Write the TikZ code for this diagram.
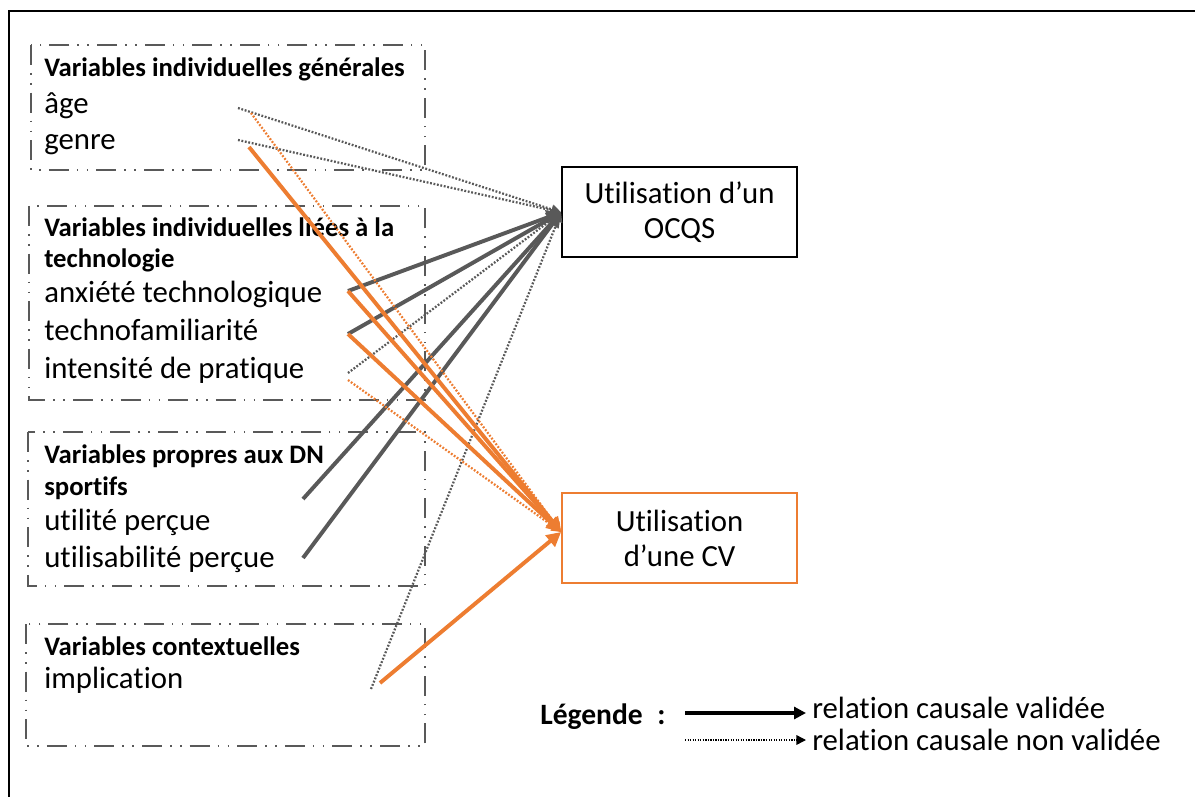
\documentclass[tikz,border=0pt]{standalone}
\usepackage{fontspec}
\setmainfont{Carlito}[Ligatures=NoCommon]
\usepackage{xcolor}
\usepackage{tikz}
\usetikzlibrary{arrows.meta,positioning,calc}
\definecolor{modgris}{HTML}{595959}
\definecolor{modorange}{HTML}{ED7D31}

\begin{document}
\begin{tikzpicture}[
    x=1cm,y=1cm,
    groupe/.style = {draw=modgris, line width=1.2pt,
                     dash pattern=on 5mm off 2mm on 0.4mm off 2.1mm on 0.4mm off 2mm},
    titre/.style  = {anchor=base west, inner sep=0pt,
                     font=\fontsize{19}{22}\selectfont\bfseries},
    var/.style    = {anchor=base west, inner sep=0pt,
                     font=\fontsize{21.9}{25}\selectfont},
    usage/.style  = {draw, line width=1.4pt, minimum width=5.875cm,
                     minimum height=2.25cm, align=center,
                     font=\fontsize{21.9}{25}\selectfont},
    valide/.style = {-{Triangle[length=3.6mm,width=3.6mm]}, line width=2.8pt},
    nonval/.style = {-{Triangle[length=2.4mm,width=2.4mm]}, line width=1.6pt,
                     dash pattern=on 1.3pt off 1.2pt},
  ]

  \useasboundingbox (0,0) rectangle (29.875,-19.925);
  \draw[line width=1.4pt] (0.225,-0.275) rectangle (31,-21);

  \draw[groupe] (0.775,-1.125) rectangle (10.625,-4.25);
  \draw[groupe] (0.725,-5.15)  rectangle (10.625,-10.0);
  \draw[groupe] (0.7,-10.8)    rectangle (10.625,-14.65);
  \draw[groupe] (0.65,-15.6)   rectangle (10.625,-18.65);

  \node[titre] (t-gen)  at (1.1,-1.925) {Variables individuelles générales};
  \node[var]   (age)    at (1.1,-2.85)  {âge};
  \node[var]   (genre)  at (1.1,-3.75)  {genre};

  \node[titre] (t-tec)  at (1.1,-5.925) {Variables individuelles liées à la};
  \node[titre] (t-tec2) at (1.1,-6.7)   {technologie};
  \node[var]   (anx)    at (1.1,-7.575) {anxiété technologique};
  \node[var]   (fam)    at (1.1,-8.5)   {technofamiliarité};
  \node[var]   (int)    at (1.1,-9.45)  {intensité de pratique};

  \node[titre] (t-dn)   at (1.1,-11.575) {Variables propres aux DN};
  \node[titre] (t-dn2)  at (1.1,-12.375) {sportifs};
  \node[var]   (uti)    at (1.1,-13.25)  {utilité perçue};
  \node[var]   (usa)    at (1.1,-14.175) {utilisabilité perçue};

  \node[titre] (t-ctx)  at (1.1,-16.375) {Variables contextuelles};
  \node[var]   (imp)    at (1.1,-17.2)   {implication};

  \node[usage]                 (ocqs) at (16.99,-5.31)  {Utilisation d’un\\OCQS};
  \node[usage,draw=modorange]  (cv)   at (16.99,-13.45) {Utilisation\\d’une CV};
  \coordinate (cv-in) at ([yshift=1.5mm]cv.west);

  \coordinate (g-age) at (5.95,-2.7);
  \coordinate (o-age) at (6.275,-2.825);
  \coordinate (g-gen) at (5.95,-3.5);
  \coordinate (o-gen) at (6.225,-3.675);
  \coordinate (s-anx) at (8.7,-7.275);
  \coordinate (s-fam) at (8.7,-8.35);
  \coordinate (g-int) at (8.7,-9.325);
  \coordinate (o-int) at (8.7,-9.5);
  \coordinate (s-uti) at (7.575,-12.475);
  \coordinate (s-usa) at (7.575,-13.95);
  \coordinate (g-imp) at (9.275,-17.225);
  \coordinate (o-imp) at (9.5,-17.075);

  \foreach \s in {g-age,g-gen,g-int,g-imp} \draw[nonval,modgris] (\s) -- (ocqs.west);
  \foreach \s in {s-anx,s-fam,s-uti,s-usa} \draw[valide,modgris] (\s) -- (ocqs.west);
  \foreach \s in {o-age,o-int} \draw[nonval,modorange] (\s) -- (cv-in);
  \foreach \s in {o-gen,s-anx,s-fam,o-imp} \draw[valide,modorange] (\s) -- (cv-in);

  \node[anchor=base west, inner sep=0pt,
        font=\fontsize{21}{25}\selectfont\bfseries] (leg) at (13.5,-18.1) {Légende\enspace:};
  \node[var] (leg-val) at (20.3,-17.95) {relation causale validée};
  \node[var] (leg-non) at (20.3,-18.75) {relation causale non validée};
  \coordinate (l-val) at (17.125,-17.825);
  \coordinate (l-non) at (17.125,-18.5);
  \draw[-{Triangle[length=3mm,width=3mm]}, line width=2.2pt, shorten >=1.5mm]
       (l-val) -- (l-val -| leg-val.west);
  \draw[-{Triangle[length=2.4mm,width=2.4mm]}, line width=1pt, shorten >=1.5mm,
        dash pattern=on 0.9pt off 0.9pt]
       (l-non) -- (l-non -| leg-non.west);

\end{tikzpicture}
\end{document}
